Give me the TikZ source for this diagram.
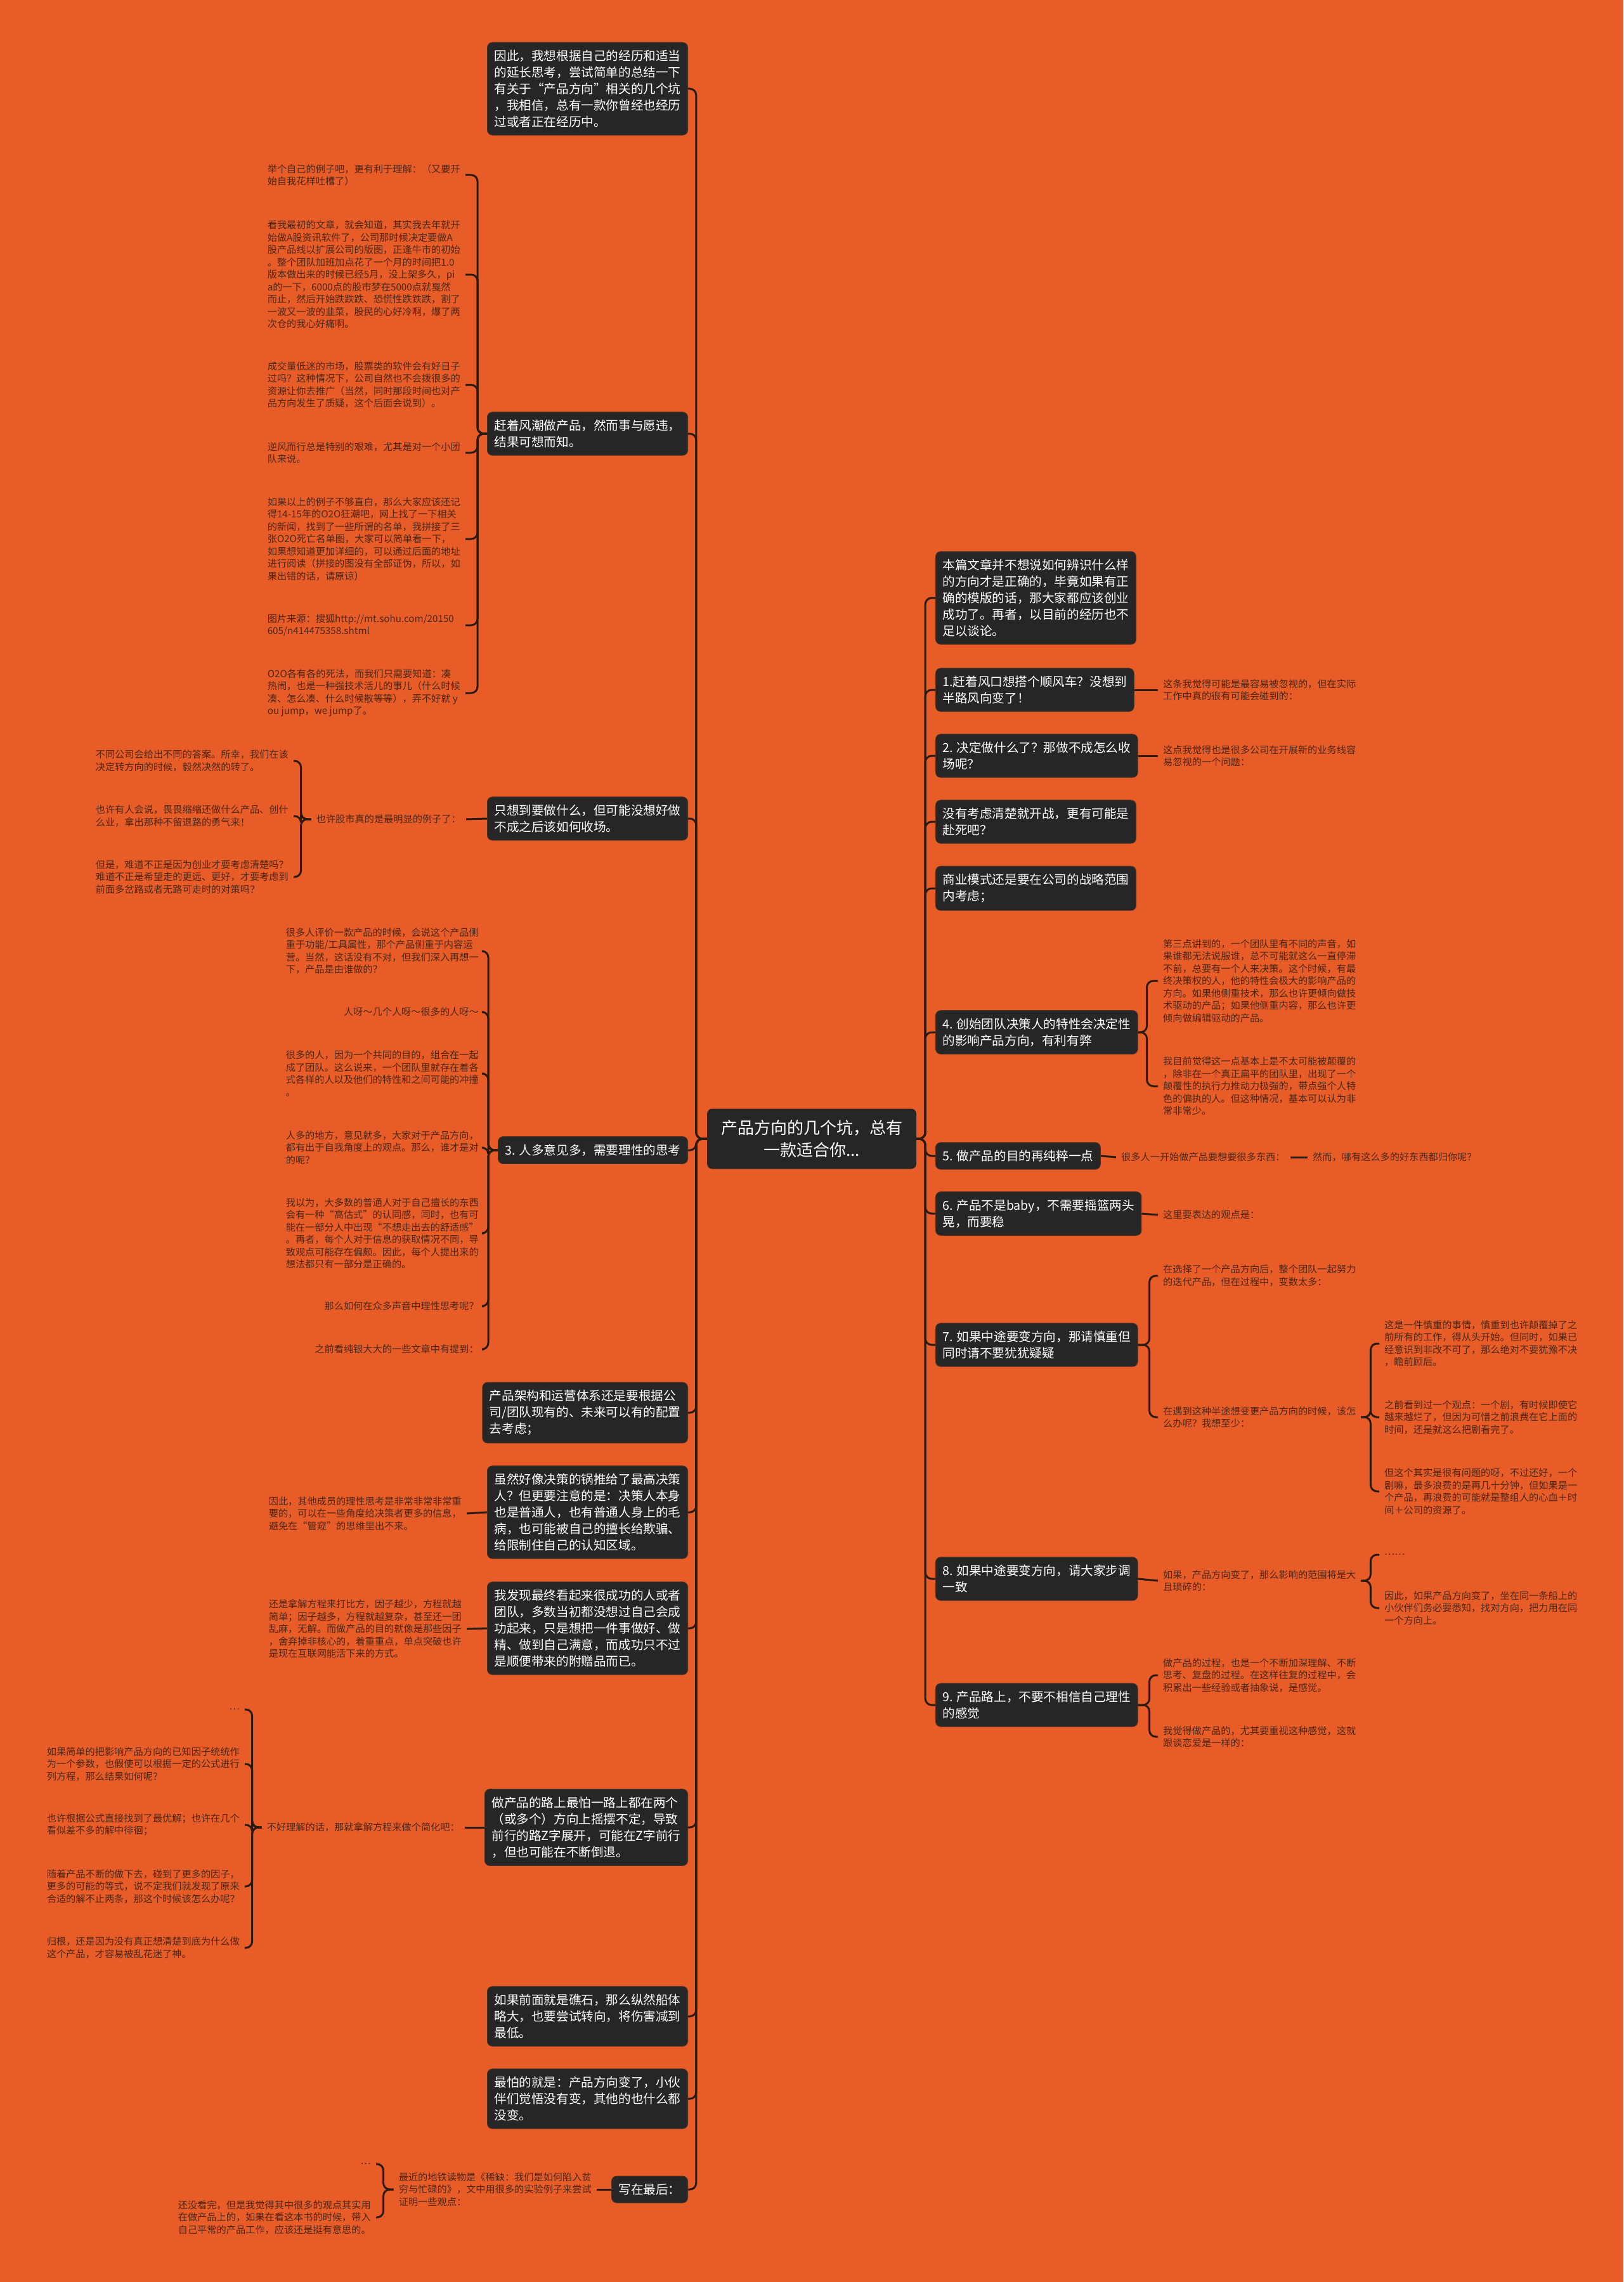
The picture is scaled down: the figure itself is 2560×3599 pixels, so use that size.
\documentclass[tikz,border=0pt]{standalone}
\usepackage{fontspec}
\setmainfont{Noto Sans CJK SC}
\definecolor{bgc}{HTML}{E85D27}
\definecolor{boxc}{HTML}{262626}
\definecolor{txtc}{HTML}{4A2719}
\definecolor{linec}{HTML}{2A1A12}
\begin{document}
\begin{tikzpicture}[x=1pt,y=-1pt,
 bx/.style={fill=boxc, draw=boxc!80!bgc, line width=1pt, rounded corners=8pt, text=white, font=\fontsize{19.6pt}{26pt}\selectfont, align=left, inner xsep=11pt, inner ysep=12pt},
 bxr/.style={bx, anchor=west},
 bxl/.style={bx, anchor=east},
 tx/.style={text=txtc, font=\fontsize{15.2pt}{19.5pt}\selectfont, align=left, inner xsep=8pt, inner ysep=0pt},
 txr/.style={tx, anchor=west},
 txl/.style={tx, anchor=east},
 conn/.style={draw=linec, line width=3pt, rounded corners=10pt},
]
\fill[bgc] (0,0) rectangle (2560,3599);
\useasboundingbox (0,0) rectangle (2560,3599);

% centre
\node[fill=boxc, rounded corners=8pt, text=white, font=\fontsize{26pt}{35pt}\selectfont, align=center, minimum width=330pt, minimum height=95pt, inner sep=0pt] (ctr) at (1280,1796) {产品方向的几个坑，总有\\一款适合你...};

% ---------- right side ----------
\node[bxr] (R0) at (1475,943) {本篇文章并不想说如何辨识什么样\\的方向才是正确的，毕竟如果有正\\确的模版的话，那大家都应该创业\\成功了。再者，以目前的经历也不\\足以谈论。};
\node[bxr] (R1) at (1475,1088) {1.赶着风口想搭个顺风车？没想到\\半路风向变了！};
\node[bxr] (R2) at (1475,1192) {2. 决定做什么了？那做不成怎么收\\场呢？};
\node[bxr] (R3) at (1475,1296) {没有考虑清楚就开战，更有可能是\\赴死吧？};
\node[bxr] (R4) at (1475,1401) {商业模式还是要在公司的战略范围\\内考虑；};
\node[bxr] (R5) at (1475,1628) {4. 创始团队决策人的特性会决定性\\的影响产品方向，有利有弊};
\node[bxr] (R6) at (1475,1823) {5. 做产品的目的再纯粹一点};
\node[bxr] (R7) at (1475,1914) {6. 产品不是baby，不需要摇篮两头\\晃，而要稳};
\node[bxr] (R8) at (1475,2121) {7. 如果中途要变方向，那请慎重但\\同时请不要犹犹疑疑};
\node[bxr] (R9) at (1475,2490) {8. 如果中途要变方向，请大家步调\\一致};
\node[bxr] (R10) at (1475,2689) {9. 产品路上，不要不相信自己理性\\的感觉};

\node[txr] (r1a) at (1826,1088) {这条我觉得可能是最容易被忽视的，但在实际\\工作中真的很有可能会碰到的：};
\node[txr] (r2a) at (1826,1192) {这点我觉得也是很多公司在开展新的业务线容\\易忽视的一个问题：};
\node[txr] (r5a) at (1826,1547) {第三点讲到的，一个团队里有不同的声音，如\\果谁都无法说服谁，总不可能就这么一直停滞\\不前，总要有一个人来决策。这个时候，有最\\终决策权的人，他的特性会极大的影响产品的\\方向。如果他侧重技术，那么也许更倾向做技\\术驱动的产品；如果他侧重内容，那么也许更\\倾向做编辑驱动的产品。};
\node[txr] (r5b) at (1826,1713) {我目前觉得这一点基本上是不太可能被颠覆的\\，除非在一个真正扁平的团队里，出现了一个\\颠覆性的执行力推动力极强的，带点强个人特\\色的偏执的人。但这种情况，基本可以认为非\\常非常少。};
\node[txr] (r6a) at (1760,1825) {很多人一开始做产品要想要很多东西：};
\node[txr] (r6b) at (2062,1825) {然而，哪有这么多的好东西都归你呢？};
\node[txr] (r7a) at (1826,1916) {这里要表达的观点是：};
\node[txr] (r8a) at (1826,2012) {在选择了一个产品方向后，整个团队一起努力\\的迭代产品，但在过程中，变数太多：};
\node[txr] (r8b) at (1826,2235) {在遇到这种半途想变更产品方向的时候，该怎\\么办呢？我想至少：};
\node[txr] (r8b1) at (2175,2119) {这是一件慎重的事情，慎重到也许颠覆掉了之\\前所有的工作，得从头开始。但同时，如果已\\经意识到非改不可了，那么绝对不要犹豫不决\\，瞻前顾后。};
\node[txr] (r8b2) at (2175,2235) {之前看到过一个观点：一个剧，有时候即使它\\越来越烂了，但因为可惜之前浪费在它上面的\\时间，还是就这么把剧看完了。};
\node[txr] (r8b3) at (2175,2352) {但这个其实是很有问题的呀，不过还好，一个\\剧嘛，最多浪费的是再几十分钟，但如果是一\\个产品，再浪费的可能就是整组人的心血＋时\\间＋公司的资源了。};
\node[txr] (r9a) at (1826,2493) {如果，产品方向变了，那么影响的范围将是大\\且琐碎的：};
\node[txr] (r9a1) at (2175,2452) {……};
\node[txr] (r9a2) at (2175,2536) {因此，如果产品方向变了，坐在同一条船上的\\小伙伴们务必要悉知，找对方向，把力用在同\\一个方向上。};
\node[txr] (r10a) at (1826,2642) {做产品的过程，也是一个不断加深理解、不断\\思考、复盘的过程。在这样往复的过程中，会\\积累出一些经验或者抽象说，是感觉。};
\node[txr] (r10b) at (1826,2739) {我觉得做产品的，尤其要重视这种感觉，这就\\跟谈恋爱是一样的：};

% ---------- left side ----------
\node[bxl] (L0) at (1085,140) {因此，我想根据自己的经历和适当\\的延长思考，尝试简单的总结一下\\有关于“产品方向”相关的几个坑\\，我相信，总有一款你曾经也经历\\过或者正在经历中。};
\node[bxl] (L1) at (1085,684) {赶着风潮做产品，然而事与愿违，\\结果可想而知。};
\node[bxl] (L2) at (1085,1291) {只想到要做什么，但可能没想好做\\不成之后该如何收场。};
\node[bxl] (L3) at (1085,1814) {3. 人多意见多，需要理性的思考};
\node[bxl] (L4) at (1085,2228) {产品架构和运营体系还是要根据公\\司/团队现有的、未来可以有的配置\\去考虑；};
\node[bxl] (L5) at (1085,2385) {虽然好像决策的锅推给了最高决策\\人？但更要注意的是：决策人本身\\也是普通人，也有普通人身上的毛\\病，也可能被自己的擅长给欺骗、\\给限制住自己的认知区域。};
\node[bxl] (L6) at (1085,2568) {我发现最终看起来很成功的人或者\\团队，多数当初都没想过自己会成\\功起来，只是想把一件事做好、做\\精、做到自己满意，而成功只不过\\是顺便带来的附赠品而已。};
\node[bxl] (L7) at (1085,2882) {做产品的路上最怕一路上都在两个\\（或多个）方向上摇摆不定，导致\\前行的路Z字展开，可能在Z字前行\\，但也可能在不断倒退。};
\node[bxl] (L8) at (1085,3180) {如果前面就是礁石，那么纵然船体\\略大，也要尝试转向，将伤害减到\\最低。};
\node[bxl] (L9) at (1085,3310) {最怕的就是：产品方向变了，小伙\\伴们觉悟没有变，其他的也什么都\\没变。};
\node[bxl] (L10) at (1085,3453) {写在最后：};

% L1 children
\node[txl] (c1) at (734,276) {举个自己的例子吧，更有利于理解：（又要开\\始自我花样吐槽了）};
\node[txl] (c2) at (734,433) {看我最初的文章，就会知道，其实我去年就开\\始做A股资讯软件了，公司那时候决定要做A\\股产品线以扩展公司的版图，正逢牛市的初始\\。整个团队加班加点花了一个月的时间把1.0\\版本做出来的时候已经5月，没上架多久，pi\\a的一下，6000点的股市梦在5000点就戛然\\而止，然后开始跌跌跌、恐慌性跌跌跌，割了\\一波又一波的韭菜，股民的心好冷啊，爆了两\\次仓的我心好痛啊。};
\node[txl] (c3) at (734,607) {成交量低迷的市场，股票类的软件会有好日子\\过吗？这种情况下，公司自然也不会拨很多的\\资源让你去推广（当然，同时那段时间也对产\\品方向发生了质疑，这个后面会说到）。};
\node[txl] (c4) at (734,714) {逆风而行总是特别的艰难，尤其是对一个小团\\队来说。};
\node[txl] (c5) at (734,850) {如果以上的例子不够直白，那么大家应该还记\\得14-15年的O2O狂潮吧，网上找了一下相关\\的新闻，找到了一些所谓的名单，我拼接了三\\张O2O死亡名单图，大家可以简单看一下，\\如果想知道更加详细的，可以通过后面的地址\\进行阅读（拼接的图没有全部证伪，所以，如\\果出错的话，请原谅）};
\node[txl, text width=304pt] (c6) at (734,986) {图片来源：搜狐http://mt.sohu.com/20150\\605/n414475358.shtml};
\node[txl] (c7) at (734,1093) {O2O各有各的死法，而我们只需要知道：凑\\热闹，也是一种强技术活儿的事儿（什么时候\\凑、怎么凑、什么时候散等等），弄不好就 y\\ou jump，we jump了。};

% L2 children
\node[txl] (l2a) at (735,1292) {也许股市真的是最明显的例子了：};
\node[txl] (g1) at (463,1200) {不同公司会给出不同的答案。所幸，我们在该\\决定转方向的时候，毅然决然的转了。};
\node[txl] (g2) at (463,1287) {也许有人会说，畏畏缩缩还做什么产品、创什\\么业，拿出那种不留退路的勇气来！};
\node[txl] (g3) at (463,1383) {但是，难道不正是因为创业才要考虑清楚吗？\\难道不正是希望走的更远、更好，才要考虑到\\前面多岔路或者无路可走时的对策吗？};

% L3 children
\node[txl] (d1) at (763,1500) {很多人评价一款产品的时候，会说这个产品侧\\重于功能/工具属性，那个产品侧重于内容运\\营。当然，这话没有不对，但我们深入再想一\\下，产品是由谁做的？};
\node[txl] (d2) at (763,1596) {人呀～几个人呀～很多的人呀～};
\node[txl] (d3) at (763,1693) {很多的人，因为一个共同的目的，组合在一起\\成了团队。这么说来，一个团队里就存在着各\\式各样的人以及他们的特性和之间可能的冲撞\\。};
\node[txl] (d4) at (763,1810) {人多的地方，意见就多，大家对于产品方向，\\都有出于自我角度上的观点。那么，谁才是对\\的呢？};
\node[txl] (d5) at (763,1945) {我以为，大多数的普通人对于自己擅长的东西\\会有一种“高估式”的认同感，同时，也有可\\能在一部分人中出现“不想走出去的舒适感”\\。再者，每个人对于信息的获取情况不同，导\\致观点可能存在偏颇。因此，每个人提出来的\\想法都只有一部分是正确的。};
\node[txl] (d6) at (763,2060) {那么如何在众多声音中理性思考呢？};
\node[txl] (d7) at (763,2128) {之前看纯银大大的一些文章中有提到：};

% L5, L6 children
\node[txl] (e1) at (736,2387) {因此，其他成员的理性思考是非常非常非常重\\要的，可以在一些角度给决策者更多的信息，\\避免在“管窥”的思维里出不来。};
\node[txl] (f1) at (736,2569) {还是拿解方程来打比方，因子越少，方程就越\\简单；因子越多，方程就越复杂，甚至还一团\\乱麻，无解。而做产品的目的就像是那些因子\\，舍弃掉非核心的，着重重点，单点突破也许\\是现在互联网能活下来的方式。};

% L7 children
\node[txl] (h1) at (733,2882) {不好理解的话，那就拿解方程来做个简化吧：};
\node[txl] (k0) at (386,2696) {…};
\node[txl] (k1) at (386,2782) {如果简单的把影响产品方向的已知因子统统作\\为一个参数，也假使可以根据一定的公式进行\\列方程，那么结果如何呢？};
\node[txl] (k2) at (386,2878) {也许根据公式直接找到了最优解；也许在几个\\看似差不多的解中徘徊；};
\node[txl] (k3) at (386,2975) {随着产品不断的做下去，碰到了更多的因子，\\更多的可能的等式，说不定我们就发现了原来\\合适的解不止两条，那这个时候该怎么办呢？};
\node[txl] (k4) at (386,3072) {归根，还是因为没有真正想清楚到底为什么做\\这个产品，才容易被乱花迷了神。};

% L10 children
\node[txl] (m1) at (941,3453) {最近的地铁读物是《稀缺：我们是如何陷入贫\\穷与忙碌的》，文中用很多的实验例子来尝试\\证明一些观点：};
\node[txl] (m0) at (593,3413) {…};
\node[txl] (m2) at (593,3497) {还没看完，但是我觉得其中很多的观点其实用\\在做产品上的，如果在看这本书的时候，带入\\自己平常的产品工作，应该还是挺有意思的。};

% ---------- connectors ----------
\foreach \n in {R0,R1,R2,R3,R4,R5,R6,R7,R8,R9,R10}
  \draw[conn] (ctr.east) -- ++(14,0) |- (\n.west);
\foreach \n in {L0,L1,L2,L3,L4,L5,L6,L7,L8,L9,L10}
  \draw[conn] (ctr.west) -- ++(-17,0) |- (\n.east);

\draw[conn] (R1.east) -- (r1a.west);
\draw[conn] (R2.east) -- (r2a.west);
\foreach \n in {r5a,r5b} \draw[conn] (R5.east) -- ++(14,0) |- (\n.west);
\draw[conn] (R6.east) -- (r6a.west);
\draw[conn] (r6a.east) -- (r6b.west);
\draw[conn] (R7.east) -- (r7a.west);
\foreach \n in {r8a,r8b} \draw[conn] (R8.east) -- ++(18,0) |- (\n.west);
\foreach \n in {r8b1,r8b2,r8b3} \draw[conn] (r8b.east) -- ++(15,0) |- (\n.west);
\draw[conn] (R9.east) -- (r9a.west);
\foreach \n in {r9a1,r9a2} \draw[conn] (r9a.east) -- ++(15,0) |- (\n.west);
\foreach \n in {r10a,r10b} \draw[conn] (R10.east) -- ++(18,0) |- (\n.west);

\foreach \n in {c1,c2,c3,c4,c5,c6,c7} \draw[conn] (L1.west) -- ++(-15,0) |- (\n.east);
\draw[conn] (L2.west) -- (l2a.east);
\foreach \n in {g1,g2,g3} \draw[conn] (l2a.west) -- ++(-16,0) |- (\n.east);
\foreach \n in {d1,d2,d3,d4,d5,d6,d7} \draw[conn] (L3.west) -- ++(-15,0) |- (\n.east);
\draw[conn] (L5.west) -- (e1.east);
\draw[conn] (L6.west) -- (f1.east);
\draw[conn] (L7.west) -- (h1.east);
\foreach \n in {k0,k1,k2,k3,k4} \draw[conn] (h1.west) -- ++(-15,0) |- (\n.east);
\draw[conn] (L10.west) -- (m1.east);
\foreach \n in {m0,m2} \draw[conn] (m1.west) -- ++(-16,0) |- (\n.east);
\end{tikzpicture}
\end{document}
